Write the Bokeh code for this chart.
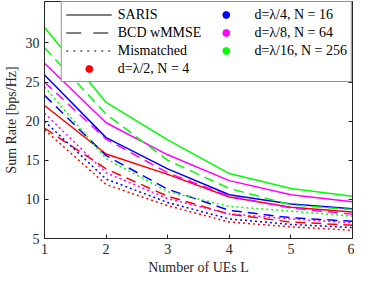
from bokeh.plotting import figure
from bokeh.models import (ColumnDataSource, Legend, LegendItem, LinearAxis,
                          FixedTicker, Range1d)
from bokeh.embed import file_html
from bokeh.resources import INLINE

# ---- data ----
users = [1, 2, 3, 4, 5, 6]

red_saris = [22.0, 15.8, 13.2, 10.3, 9.0, 8.4]
red_bcd = [19.1, 13.9, 10.4, 8.1, 7.1, 6.7]
red_mis = [18.9, 11.9, 9.2, 7.1, 6.5, 6.05]

blue_saris = [25.9, 17.9, 13.9, 10.6, 9.4, 8.8]
blue_bcd = [23.3, 15.6, 11.3, 8.6, 7.65, 7.2]
blue_mis = [20.0, 12.6, 9.6, 7.5, 6.8, 6.4]

mag_saris = [27.4, 19.8, 15.7, 12.4, 10.6, 9.7]
mag_bcd = [25.0, 17.7, 13.4, 10.4, 8.9, 8.1]
mag_mis = [21.0, 13.4, 10.1, 8.15, 7.5, 7.0]

green_saris = [32.0, 22.4, 17.6, 13.3, 11.4, 10.4]
green_bcd = [29.4, 20.9, 15.0, 11.4, 9.3, 8.7]
green_mis = [24.4, 15.2, 11.0, 9.1, 8.5, 7.85]

x_ticks = [1, 2, 3, 4, 5, 6]
y_ticks = [5, 10, 15, 20, 25, 30]

method_labels = ["SARIS", "BCD wMMSE", "Mismatched"]
config_labels = ["d=λ/2, N = 4", "d=λ/4, N = 16", "d=λ/8, N = 64", "d=λ/16, N = 256"]
config_colors = ["#FF0000", "#0000FF", "#FF00FF", "#00FF00"]

series = {
    "#FF0000": [red_saris, red_bcd, red_mis],
    "#0000FF": [blue_saris, blue_bcd, blue_mis],
    "#FF00FF": [mag_saris, mag_bcd, mag_mis],
    "#00FF00": [green_saris, green_bcd, green_mis],
}

FONT = "Liberation Serif"
TXT = "#262626"

p = figure(width=354, height=277, output_backend="svg", toolbar_location=None,
           x_range=Range1d(1, 6), y_range=Range1d(5, 35.3),
           min_border_left=30, min_border_right=2, min_border_top=1,
           min_border_bottom=30)

p.xgrid.visible = False
p.ygrid.visible = False
p.outline_line_color = TXT
p.outline_line_width = 1
p.background_fill_color = "white"
p.border_fill_color = "white"

dashes = ["solid", "10 6", "2 3"]
for color in config_colors:
    for ys, dash in zip(series[color], dashes):
        src = ColumnDataSource(dict(x=users, y=ys))
        p.line("x", "y", source=src, line_color=color, line_width=1.5,
               line_dash=dash)

# axes
for ax in [p.xaxis[0], p.yaxis[0]]:
    ax.major_tick_in = 4
    ax.major_tick_out = 0
    ax.minor_tick_line_color = None
    ax.axis_line_color = TXT
    ax.major_tick_line_color = TXT
    ax.major_label_text_font = FONT
    ax.major_label_text_font_size = "14px"
    ax.major_label_text_color = TXT
    ax.axis_label_text_font = FONT
    ax.axis_label_text_font_size = "14px"
    ax.axis_label_text_font_style = "normal"
    ax.axis_label_text_color = TXT

p.xaxis[0].ticker = FixedTicker(ticks=x_ticks)
p.yaxis[0].ticker = FixedTicker(ticks=y_ticks)
p.xaxis[0].axis_label = "Number of UEs L"
p.yaxis[0].axis_label = "Sum Rate [bps/Hz]"
p.xaxis[0].major_label_standoff = 5
p.yaxis[0].major_label_standoff = 5
p.xaxis[0].axis_label_standoff = 3
p.yaxis[0].axis_label_standoff = 4

right = LinearAxis(ticker=FixedTicker(ticks=y_ticks))
right.major_tick_in = 4
right.major_tick_out = 0
right.minor_tick_line_color = None
right.major_label_overrides = {t: "" for t in y_ticks}
right.major_label_standoff = 0
right.axis_line_color = TXT
right.major_tick_line_color = TXT
p.add_layout(right, "right")

# legend proxies (kept outside the visible range)
proxy = ColumnDataSource(dict(x=[-10, -9], y=[-10, -9]))
leg_dashes = ["solid", "15 12", "2 5"]
items = []
for lab, dash in zip(method_labels, leg_dashes):
    r = p.line("x", "y", source=proxy, line_color="black", line_width=1.2,
               line_dash=dash)
    items.append(LegendItem(label=lab, renderers=[r]))
for lab, col in zip(config_labels, config_colors):
    r = p.scatter("x", "y", source=proxy, marker="circle", size=11,
                  fill_color=col, line_color=col)
    items.append(LegendItem(label=lab, renderers=[r]))

legend = Legend(items=items, location="top_right", nrows=4, ncols=2,
                orientation="vertical",
                label_text_font=FONT,
                label_text_font_style="normal",
                label_text_font_size="14px",
                label_text_color="black",
                glyph_width=46, glyph_height=17, label_height=17,
                spacing=1, padding=4, margin=0,
                border_line_color=TXT, border_line_width=1,
                background_fill_alpha=1.0, label_standoff=6)
p.add_layout(legend, "center")

open("out.html", "w").write(file_html(p, INLINE))
